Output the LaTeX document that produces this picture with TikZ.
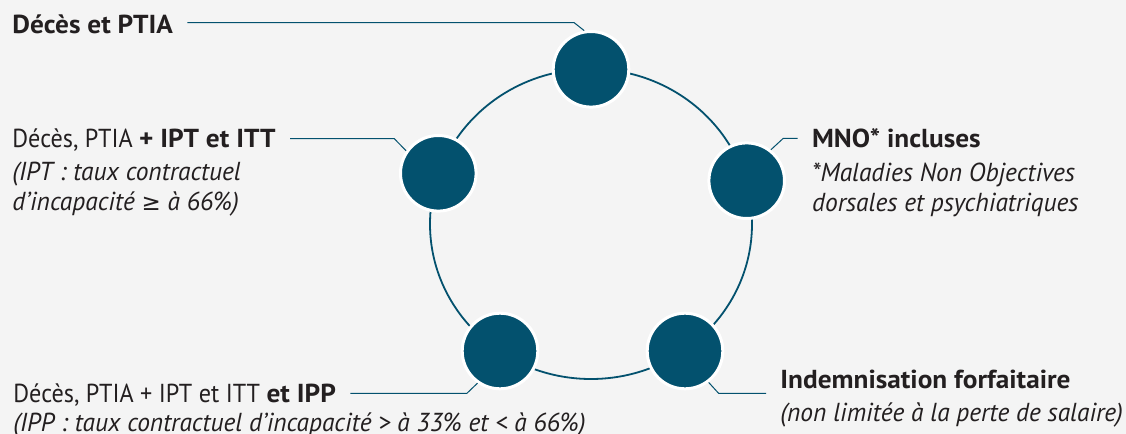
\documentclass[tikz,border=0pt]{standalone}
\usepackage{fontspec}
\setmainfont{PT Sans}[
    UprightFeatures={FakeStretch=0.93},
    BoldFeatures={FakeStretch=1.05},
    ItalicFeatures={FakeStretch=0.98}]
\newfontfamily\symfont{DejaVu Sans}
\usepackage{tikz}
\usetikzlibrary{positioning}
\definecolor{petrol}{RGB}{3,81,110}
\definecolor{bggrey}{RGB}{244,244,244}
\definecolor{ink}{RGB}{35,31,32}

\begin{document}
\begin{tikzpicture}[x=0.5pt,y=-0.5pt,
    dot/.style={circle,fill=petrol,draw=white,line width=1.5pt,minimum size=37.8pt,inner sep=0pt},
    lbl/.style={inner sep=0pt,anchor=base west,text=ink,font=\fontsize{13}{16}\selectfont},
    leader/.style={draw=petrol,line width=0.5pt}]
    \fill[bggrey] (0,0) rectangle (1126,434);
    \useasboundingbox (0,0) rectangle (1126,434);
    \draw[petrol,line width=0.9pt] (591,224) ellipse [x radius=80.5pt,y radius=77.5pt];
    %
    \node[lbl] (deces_l1) at (12,33.3) {\bfseries Décès et PTIA};
    \node[lbl] (ipt_l1) at (12,147.7) {Décès, PTIA \textbf{+ IPT et ITT}};
    \node[lbl,below=16.5pt of ipt_l1.base west,anchor=base west] (ipt_l2) {\itshape (IPT : taux contractuel};
    \node[lbl,below=15pt of ipt_l2.base west,anchor=base west] (ipt_l3) {\itshape d’incapacité {\symfont\fontsize{11.5}{14}\selectfont ≥} à 66\%)};
    \node[lbl] (mno_l1) at (811.7,147.7) {\bfseries MNO* incluses};
    \node[lbl,below=17pt of mno_l1.base west,anchor=base west] (mno_l2) {\itshape *Maladies Non Objectives};
    \node[lbl,below=15pt of mno_l2.base west,anchor=base west] (mno_l3) {\itshape dorsales et psychiatriques};
    \node[lbl] (ipp_l1) at (13,402) {Décès, PTIA + IPT et ITT \textbf{et IPP}};
    \node[lbl,below=14.5pt of ipp_l1.base west,anchor=base west] (ipp_l2) {\itshape (IPP : taux contractuel d’incapacité > à 33\% et < à 66\%)};
    \node[lbl] (forfait_l1) at (780,388.3) {\bfseries Indemnisation forfaitaire};
    \node[lbl,below=16.7pt of forfait_l1.base west,anchor=base west] (forfait_l2) {\itshape (non limitée à la perte de salaire)};
    %
    \node[dot] (deces) at (591,69.3) {};
    \node[dot] (ipt) at (438.3,173.3) {};
    \node[dot] (mno) at (746.7,180.7) {};
    \node[dot] (ipp) at (500,351) {};
    \node[dot] (forfait) at (685,351) {};
    %
    \draw[leader] ([xshift=7pt,yshift=5.3pt]deces_l1.base east) -- ([xshift=-8.4pt,yshift=5.3pt]deces_l1.base east -| deces.center) -- (deces.100);
    \draw[leader] ([xshift=7pt,yshift=4.5pt]ipt_l1.base east) -- ([xshift=-22pt,yshift=4.5pt]ipt_l1.base east -| ipt.center) -- (ipt.145);
    \draw[leader] ([xshift=-7pt,yshift=4.7pt]mno_l1.base west) -- ([xshift=18.3pt,yshift=4.7pt]mno_l1.base west -| mno.center) -- (mno.52);
    \draw[leader] ([xshift=7pt,yshift=4.3pt]ipp_l1.base east) -- ([xshift=-16.6pt,yshift=4.3pt]ipp_l1.base east -| ipp.center) -- (ipp.235);
    \draw[leader] ([xshift=-7pt,yshift=-2.5pt]forfait_l1.base west) -- ([xshift=16.8pt,yshift=-2.5pt]forfait_l1.base west -| forfait.center) -- (forfait.307);
\end{tikzpicture}
\end{document}
